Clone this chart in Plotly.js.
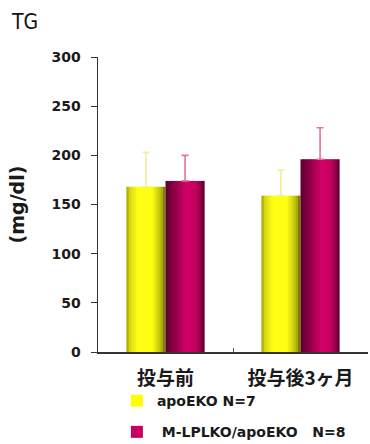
<!DOCTYPE html>
<html>
<head>
<meta charset="utf-8">
<script src="https://cdn.plot.ly/plotly-3.0.1.min.js"></script>
<style>
  html, body { margin: 0; padding: 0; background: #fff; }
  #chart { width: 370px; height: 444px; }
</style>
</head>
<body>
<div id="chart"></div>
<script>
// Serum triglyceride (TG), before and 3 months after treatment
const categories = ['投与前', '投与後3ヶ月'];
const seriesNames = ['apoEKO N=7', '\u00a0M-LPLKO/apoEKO\u00a0\u00a0 N=8'];
const apoEKO = [168, 159];
const apoEKOErr = [35, 26];
const mlplko = [174, 196];
const mlplkoErr = [26, 32];

const BAR_W = 0.29;       // width of one bar, in category units
const STRIPS = 16;        // vertical strips used to shade each bar like a cylinder

// brightness profile across a bar (t = 0 left edge .. 1 right edge)
function profile(points, t) {
  for (let i = 1; i < points.length; i++) {
    if (t <= points[i][0]) {
      const [t0, b0] = points[i - 1], [t1, b1] = points[i];
      return b0 + (b1 - b0) * (t - t0) / (t1 - t0);
    }
  }
  return points[points.length - 1][1];
}
const yellowShade = [[0, 0.62], [0.1, 0.86], [0.3, 1.0], [0.65, 1.0], [0.88, 0.74], [1, 0.4]];
const magentaShade = [[0, 0.42], [0.25, 0.68], [0.55, 1.0], [0.8, 0.88], [1, 0.42]];

function shadedBars(values, base, shade, offset, name, legendColor) {
  const traces = [];
  const sw = BAR_W / STRIPS;
  for (let i = 0; i < STRIPS; i++) {
    const t = (i + 0.5) / STRIPS;
    const b = profile(shade, t);
    const c = base.map(v => Math.round(Math.min(255, v * b)));
    const last = i === STRIPS - 1;
    traces.push({
      type: 'bar', x: categories, y: values,
      width: last ? sw : sw * 1.35,
      offset: offset + i * sw,
      marker: { color: `rgb(${c.join(',')})`, line: { width: 0 } },
      showlegend: false, hoverinfo: 'skip'
    });
  }
  // legend entry in the series colour
  traces.push({
    type: 'bar', x: categories, y: values, name: name,
    width: 0.0001, offset: offset,
    marker: { color: legendColor, line: { width: 0 } },
    showlegend: true, hoverinfo: 'skip', legendgroup: name
  });
  return traces;
}

function errorTrace(values, err, offset, color) {
  return {
    type: 'bar', x: categories, y: values,
    width: BAR_W, offset: offset,
    marker: { color: 'rgba(0,0,0,0)', line: { width: 0 } },
    error_y: {
      type: 'data', symmetric: false, array: err, arrayminus: err.map(() => 0),
      color: color, thickness: 1.6, width: 3.5
    },
    showlegend: false, hoverinfo: 'skip'
  };
}

const data = [
  ...shadedBars(apoEKO, [255, 255, 20], yellowShade, -BAR_W, seriesNames[0], '#ffff00'),
  ...shadedBars(mlplko, [215, 0, 105], magentaShade, 0, seriesNames[1], '#c8005f'),
  errorTrace(apoEKO, apoEKOErr, -BAR_W, '#f2ee9a'),
  errorTrace(mlplko, mlplkoErr, 0, '#e27694')
];

const boldFont = { family: 'DejaVu Sans', weight: 700, color: '#1a1a1a' };

const layout = {
  width: 370, height: 444,
  margin: { l: 98, r: 2, t: 57, b: 92, autoexpand: false },
  paper_bgcolor: '#fff', plot_bgcolor: '#fff',
  barmode: 'overlay',
  showlegend: true,
  title: {
    text: 'TG', x: 12 / 370, xref: 'container', xanchor: 'left',
    y: 1 - 22 / 444, yref: 'container', yanchor: 'middle',
    font: { family: 'DejaVu Sans Condensed', size: 21, color: '#111' }
  },
  xaxis: {
    type: 'category', range: [-0.5, 1.5], automargin: false,
    showline: true, linecolor: '#333', linewidth: 1.5,
    ticks: 'inside', tickson: 'boundaries', ticklen: 4, tickcolor: '#555',
    showgrid: false, zeroline: false,
    tickfont: { family: 'Noto Sans CJK JP', weight: 700, size: 19, color: '#1a1a1a' },
    ticklabelstandoff: 9
  },
  yaxis: {
    range: [0, 300], dtick: 50, automargin: false,
    showline: true, linecolor: '#333', linewidth: 1.5,
    ticks: 'outside', ticklen: 6, tickcolor: '#333',
    showgrid: false, zeroline: false,
    tickfont: Object.assign({ size: 14 }, boldFont),
    ticklabelstandoff: 7,
    title: { text: '(mg/dl)', standoff: 22, font: Object.assign({ size: 19 }, boldFont) }
  },
  legend: {
    x: 0.07, xanchor: 'left', y: -0.112, yanchor: 'top',
    traceorder: 'grouped', tracegroupgap: 10,
    font: Object.assign({ size: 14 }, boldFont),
    bgcolor: 'rgba(0,0,0,0)'
  }
};

Plotly.newPlot('chart', data, layout, { staticPlot: true, displayModeBar: false });
</script>
</body>
</html>
